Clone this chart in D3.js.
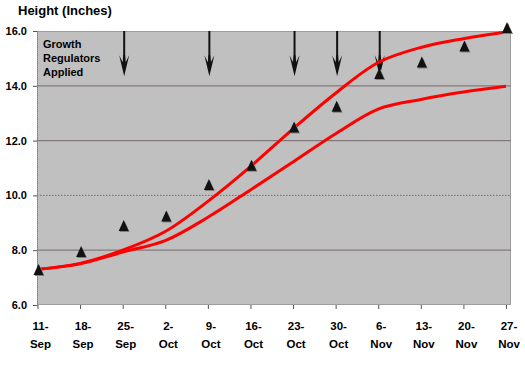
<!DOCTYPE html>
<html>
<head>
<meta charset="utf-8">
<script src="https://cdn.jsdelivr.net/npm/d3@7"></script>
<style>
  body { margin: 0; background: #fff; }
  svg { display: block; font-family: Arial, "Liberation Sans", sans-serif; }
</style>
</head>
<body>
<svg width="525" height="365"></svg>
<script>
// chart data
const dates = ["11-Sep", "18-Sep", "25-Sep", "2-Oct", "9-Oct", "16-Oct", "23-Oct", "30-Oct", "6-Nov", "13-Nov", "20-Nov", "27-Nov"];
const measured = [7.3, 7.95, 8.9, 9.25, 10.4, 11.1, 12.5, 13.25, 14.45, 14.87, 15.45, 16.13];
const upperCurve = [7.3, 7.52, 8.0, 8.68, 9.78, 11.05, 12.43, 13.73, 14.85, 15.4, 15.72, 15.96];
const lowerCurve = [7.3, 7.5, 7.93, 8.35, 9.2, 10.2, 11.22, 12.25, 13.15, 13.5, 13.77, 13.98];
const applied = ["25-Sep", "9-Oct", "23-Oct", "30-Oct", "6-Nov"];
const arrowFrom = 16.0, arrowTo = 14.35;
const yTicks = [6, 8, 10, 12, 14, 16];
const gridValues = [8, 10, 12, 14];

const svg = d3.select("svg");
const plot = { left: 37, right: 511, top: 31, bottom: 305 };

const x = d3.scalePoint().domain(dates).range([37.5, 506]);
const y = d3.scaleLinear().domain([6, 16]).range([plot.bottom, plot.top]);

// plot background
svg.append("rect")
    .attr("x", plot.left).attr("y", plot.top)
    .attr("width", plot.right - plot.left).attr("height", plot.bottom - plot.top)
    .attr("fill", "#c0c0c0");

// gridlines (10.0 is dotted in the original)
svg.selectAll(".grid").data(gridValues).enter().append("line")
    .attr("class", "grid")
    .attr("x1", plot.left).attr("x2", plot.right)
    .attr("y1", d => y(d)).attr("y2", d => y(d))
    .attr("stroke", d => d === 10 ? "#6e6e6e" : "#857878")
    .attr("stroke-width", d => d === 10 ? 1 : 1.3)
    .attr("stroke-dasharray", d => d === 10 ? "1.5,1.5" : null);

// dotted border
svg.append("rect")
    .attr("x", plot.left + 0.5).attr("y", plot.top + 0.5)
    .attr("width", plot.right - plot.left - 1).attr("height", plot.bottom - plot.top - 1)
    .attr("fill", "none")
    .attr("stroke", "#7a7a7a")
    .attr("stroke-dasharray", "1,1");

// y axis
const yAxis = svg.append("g")
    .attr("transform", `translate(${plot.left},0)`)
    .call(d3.axisLeft(y).tickValues(yTicks).tickFormat(d3.format(".1f")).tickSize(4).tickPadding(6));
yAxis.select(".domain").attr("stroke", "#7a7a7a").attr("stroke-dasharray", "1,1");
yAxis.selectAll(".tick line").attr("stroke", "#555");
yAxis.selectAll(".tick text")
    .attr("font-size", 11).attr("font-weight", "bold").attr("fill", "#000")
    .attr("font-family", "Arial, 'Liberation Sans', sans-serif");

// x axis
const xAxis = svg.append("g")
    .attr("transform", `translate(0,${plot.bottom})`)
    .call(d3.axisBottom(x).tickSize(4).tickFormat(""));
xAxis.select(".domain").remove();
xAxis.selectAll(".tick line").attr("stroke", "#555");
xAxis.selectAll(".tick").each(function(d) {
    const parts = d.split("-");
    const t = d3.select(this).append("text")
        .attr("fill", "#000").attr("font-size", 11.5).attr("font-weight", "bold")
        .attr("font-family", "Arial, 'Liberation Sans', sans-serif")
        .attr("text-anchor", "middle");
    t.append("tspan").attr("x", 2.5).attr("y", 25).text(parts[0] + "-");
    t.append("tspan").attr("x", 2.5).attr("y", 43).text(parts[1]);
});

// regulator arrows
const arrows = svg.append("g").selectAll("g").data(applied).enter().append("g")
    .attr("transform", d => `translate(${x(d) + 1.5},0)`);
arrows.append("line")
    .attr("x1", 0).attr("x2", 0)
    .attr("y1", y(arrowFrom)).attr("y2", y(arrowTo) - 8)
    .attr("stroke", "#111").attr("stroke-width", 2);
arrows.append("path")
    .attr("d", () => {
        const t = y(arrowTo), b = t - 21;
        return `M0,${t} L-5,${b} L-1.5,${b + 7} L-1,${b} L1,${b} L1.5,${b + 7} L5,${b} Z`;
    })
    .attr("fill", "#111");

// fitted curves
const line = d3.line()
    .x((d, i) => x(dates[i]))
    .y(d => y(d))
    .curve(d3.curveCatmullRom.alpha(0.5));
[lowerCurve, upperCurve].forEach(series => {
    svg.append("path")
        .datum(series)
        .attr("d", line)
        .attr("fill", "none")
        .attr("stroke", "#ff0000")
        .attr("stroke-width", 3)
        .attr("stroke-linejoin", "round");
});

// measured points (triangles with a small shadow)
const tri = "M0,-5.5 L5,5.5 L-5,5.5 Z";
svg.append("g").selectAll("path").data(measured).enter().append("path")
    .attr("d", tri)
    .attr("transform", (d, i) => `translate(${x(dates[i]) + 2},${y(d) + 1})`)
    .attr("fill", "#808080");
svg.append("g").selectAll("path").data(measured).enter().append("path")
    .attr("d", tri)
    .attr("transform", (d, i) => `translate(${x(dates[i]) + 1},${y(d)})`)
    .attr("fill", "#111");

// title and note
svg.append("text")
    .attr("x", 18).attr("y", 15)
    .attr("font-size", 13).attr("font-weight", "bold")
    .text("Height (Inches)");

const note = svg.append("text")
    .attr("font-size", 11).attr("font-weight", "bold");
["Growth", "Regulators", "Applied"].forEach((s, i) => {
    note.append("tspan").attr("x", 43).attr("y", 47.5 + i * 14).text(s);
});
</script>
</body>
</html>
